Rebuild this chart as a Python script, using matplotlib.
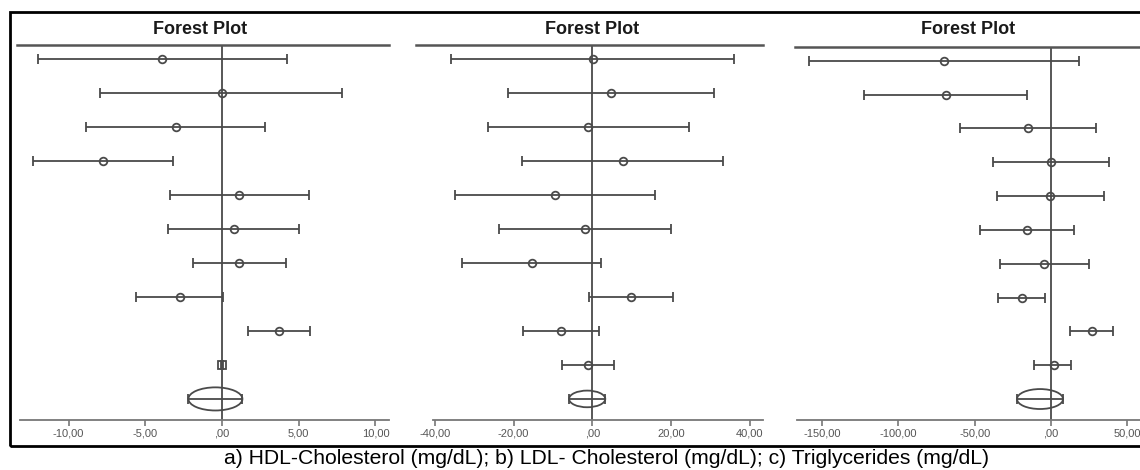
import matplotlib
matplotlib.use("Agg")
import matplotlib.pyplot as plt
from matplotlib.patches import Ellipse, Rectangle
from matplotlib.lines import Line2D

plt.rcParams['font.family'] = ['Liberation Sans', 'DejaVu Sans']

# valores: estimativa, limite inferior, limite superior (10 estudos)
hdl_est = [-3.89, 0.00, -3.00, -7.73, 1.11, 0.78, 1.13, -2.74, 3.74, 0.00]
hdl_lo = [-12.0, -7.93, -8.84, -12.30, -3.39, -3.54, -1.91, -5.60, 1.72, -0.08]
hdl_hi = [4.21, 7.84, 2.82, -3.19, 5.65, 5.02, 4.19, 0.04, 5.75, 0.08]
hdl_pool = (-0.43, -2.19, 1.33)

ldl_est = [0.1, 4.75, -1.0, 7.7, -9.6, -1.9, -15.4, 9.8, -8.0, -1.1]
ldl_lo = [-36.0, -21.3, -26.6, -17.8, -34.9, -23.8, -33.2, -0.8, -17.7, -7.6]
ldl_hi = [36.0, 31.0, 24.7, 33.1, 16.0, 20.0, 2.2, 20.4, 1.8, 5.5]
ldl_pool = (-1.3, -5.9, 3.3)

tg_est = [-70.0, -69.0, -14.9, 0.0, -0.4, -15.7, -4.4, -19.2, 26.7, 1.8]
tg_lo = [-158.5, -122.4, -59.5, -38.2, -35.4, -46.5, -33.6, -34.8, 12.5, -11.3]
tg_hi = [18.4, -15.7, 29.5, 38.2, 34.5, 14.9, 24.9, -3.9, 40.7, 12.9]
tg_pool = (-7.2, -22.3, 7.9)

hdl_ticks = [-10, -5, 0, 5, 10]
ldl_ticks = [-40, -20, 0, 20, 40]
tg_ticks = [-150, -100, -50, 0, 50]

legenda = "a) HDL-Cholesterol (mg/dL); b) LDL- Cholesterol (mg/dL); c) Triglycerides (mg/dL)"

W, H = 1140, 470
cor = '#4a4a4a'

fig = plt.figure(figsize=(W / 100, H / 100), dpi=100)


def px_axes(x0, x1, y0, y1):
    return fig.add_axes([x0 / W, 1 - y1 / H, (x1 - x0) / W, (y1 - y0) / H])


def rotulo(v):
    s = f"{v:.2f}".replace('.', ',')
    if s.startswith('0,'):
        s = s[1:]
    return s


def forest(caixa, linha_titulo, titulo_x, est, lo, hi, pool, xlim, ticks, h_elipse, quadrado=None):
    ax = px_axes(*caixa)
    n = len(est)
    rows = list(range(1, n + 1))
    ax.set_xlim(*xlim)
    ax.set_ylim(n + 1.62, 0.59)
    ax.axvline(0, color=cor, lw=1.3, zorder=1)
    for i in range(n):
        mk = 's' if quadrado == i else 'o'
        ax.errorbar(est[i], rows[i], xerr=[[est[i] - lo[i]], [hi[i] - est[i]]],
                    fmt=mk, mfc='none', mec=cor, mew=1.3, ms=5.5,
                    ecolor=cor, elinewidth=1.3, capsize=3.5, capthick=1.3, zorder=3)
    c, plo, phi = pool
    yp = n + 1
    ax.errorbar(c, yp, xerr=[[c - plo], [phi - c]], fmt='none',
                ecolor=cor, elinewidth=1.3, capsize=3.5, capthick=1.3)
    ax.add_patch(Ellipse((c, yp), phi - plo, h_elipse, fill=False, edgecolor=cor, lw=1.3))
    for s in ['top', 'left', 'right']:
        ax.spines[s].set_visible(False)
    ax.spines['bottom'].set_color('#777777')
    ax.spines['bottom'].set_linewidth(1.3)
    ax.set_yticks([])
    ax.set_xticks(ticks)
    ax.set_xticklabels([rotulo(t) for t in ticks])
    ax.tick_params(axis='x', direction='out', length=4, width=1.2, color='#777777',
                   labelsize=8, labelcolor='#555555', pad=2)
    ax.patch.set_alpha(0)
    # linha abaixo do titulo
    x0, x1, yl = linha_titulo
    fig.add_artist(Line2D([x0 / W, x1 / W], [1 - yl / H, 1 - yl / H], color='#555555', lw=1.8))
    fig.text(titulo_x / W, 1 - 29 / H, 'Forest Plot', ha='center', va='center',
             fontsize=13, fontweight='bold', color='#1a1a1a')
    return ax


forest((20, 389, 45, 420), (17, 389, 45), 200, hdl_est, hdl_lo, hdl_hi, hdl_pool,
       (-13.16, 10.88), hdl_ticks, 0.68, quadrado=9)
forest((433, 763, 45, 420), (416, 763, 45), 592, ldl_est, ldl_lo, ldl_hi, ldl_pool,
       (-40.48, 43.38), ldl_ticks, 0.49)
forest((797, 1140, 47, 420), (795, 1140, 47), 968, tg_est, tg_lo, tg_hi, tg_pool,
       (-166.4, 58.3), tg_ticks, 0.59)

# moldura preta
fig.add_artist(Rectangle((10 / W, 1 - 446 / H), 1.2, (446 - 12) / H, fill=False,
                         edgecolor='black', lw=2, transform=fig.transFigure))

fig.text(607 / W, 1 - 459 / H, legenda, ha='center', va='center', fontsize=15.2, color='black')

fig.savefig('out.png', dpi=100)
